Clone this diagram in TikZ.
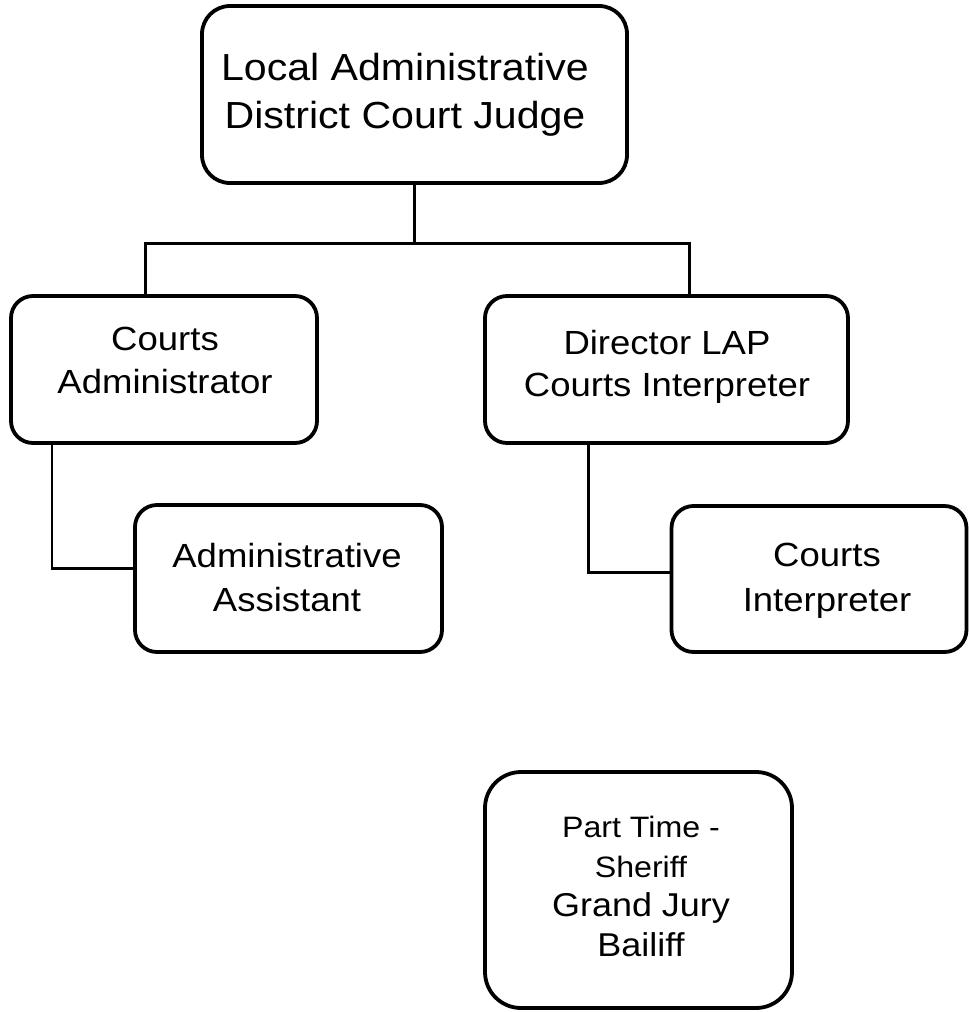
\documentclass[tikz,border=0pt]{standalone}
\usepackage{fontspec}
\setmainfont{Liberation Sans}[FakeStretch=1.09]
\begin{document}
\begin{tikzpicture}[x=1pt,y=-1pt,
  box/.style={draw=black, line width=3.8pt, rounded corners=22pt, inner sep=0pt},
  lbl/.style={anchor=north, inner sep=0pt, align=center, text=black},
  link/.style={draw=black, line width=3pt},
  thinlink/.style={draw=black, line width=1.6pt}]
  \useasboundingbox (0,0) rectangle (969,1012);

  % boxes
  \node[box, rounded corners=28pt, minimum width=425pt, minimum height=177pt] (judge) at (414.5,94.5) {};
  \node[box, minimum width=306pt, minimum height=147pt] (admin) at (164,369.5) {};
  \node[box, minimum width=363pt, minimum height=147pt] (director) at (666.5,369.5) {};
  \node[box, minimum width=307pt, minimum height=147pt] (assistant) at (288.5,578.5) {};
  \node[box, minimum width=295pt, minimum height=146pt] (interp) at (819,579) {};
  \node[box, rounded corners=36pt, minimum width=307pt, minimum height=236pt] (parttime) at (638.5,890) {};

  % texts
  \node[lbl, font=\fontsize{37.7}{48}\selectfont] (judgeT) at (405,53) {Local Administrative\\District Court Judge};
  \node[lbl, font=\fontsize{33.5}{43}\selectfont] (adminT) at (165,327) {Courts\\Administrator};
  \node[lbl, font=\fontsize{33.5}{42}\selectfont] (directorT) at (667,330) {Director LAP\\Courts Interpreter};
  \node[lbl, font=\fontsize{33.5}{44}\selectfont] (assistantT) at (287,543) {Administrative\\Assistant};
  \node[lbl, font=\fontsize{33.5}{45}\selectfont] (interpT) at (827,543) {Courts\\Interpreter};
  \node[lbl, font=\fontsize{33}{39.5}\selectfont] (parttimeT) at (641,816)
    {{\fontsize{29.5}{39.5}\selectfont Part Time -}\\{\fontsize{29.5}{39.5}\selectfont Sheriff}\\Grand Jury\\Bailiff};

  % connectors
  \coordinate (busL) at (145,243);
  \coordinate (busR) at (689,243);
  \coordinate (aa) at (52,568);
  \coordinate (dc) at (588,572);
  \draw[link] (judge.south) -- (judge.south |- busL);
  \draw[link] (busL |- admin.north) -- (busL) -- (busR) -- (busR |- director.north);
  \draw[thinlink] (admin.south -| aa) -- ([yshift=-2pt]aa);
  \draw[link] (aa) -- (aa -| assistant.west);
  \draw[link] (director.south -| dc) -- (dc) -- (dc -| interp.west);
\end{tikzpicture}
\end{document}
